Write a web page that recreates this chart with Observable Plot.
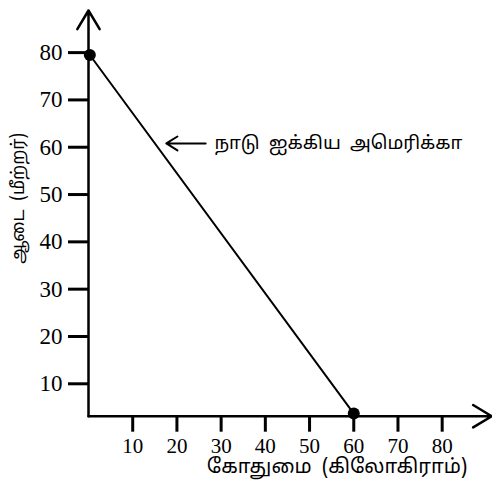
<!DOCTYPE html>
<html>
<head>
<meta charset="utf-8">
<script src="https://cdn.jsdelivr.net/npm/d3@7"></script>
<script src="https://cdn.jsdelivr.net/npm/@observablehq/plot@0.6"></script>
<style>
  html, body { margin: 0; padding: 0; background: #fff; }
  #chart svg { display: block; }
</style>
</head>
<body>
<div id="chart"></div>
<script>
// Data
const points = [
  {x: 0.3, y: 79.5},
  {x: 60, y: 3.7}
];
const xTicks = [10, 20, 30, 40, 50, 60, 70, 80];
const yTicks = [10, 20, 30, 40, 50, 60, 70, 80];
const xLabel = ["கோதுமை\u2002(கிலோகிராம்)"];
const yLabel = ["ஆடை\u2002(மீற்றர்)"];
const annotationText = ["நாடு\u2002ஐக்கிய\u2002அமெரிக்கா"];
const annotationArrow = [{x1: 26.5, y1: 60.8, x2: 17.6, y2: 60.8}];
const xDomain = [0, 91.2];
const yDomain = [3.15, 88.9];

const numFont = "Liberation Serif";
const tamilFont = "Noto Sans Tamil";

const chart = Plot.plot({
  width: 492,
  height: 484,
  marginLeft: 88,
  marginRight: 0.8,
  marginTop: 10,
  marginBottom: 68.3,
  style: {background: "#fff", color: "#000", overflow: "visible"},
  x: {domain: xDomain},
  y: {domain: yDomain},
  marks: [
    Plot.axisX({ticks: xTicks, tickSize: 16, strokeWidth: 3, label: null, tickFormat: () => ""}),
    Plot.axisY({ticks: yTicks, tickSize: 20, strokeWidth: 3, label: null, tickFormat: () => ""}),
    // tick labels
    Plot.text(xTicks, {x: d => d, y: yDomain[0], text: d => String(d), lineAnchor: "top", dy: 22, fontSize: 21, fontFamily: numFont, fill: "#000"}),
    Plot.text(yTicks, {x: xDomain[0], y: d => d, text: d => String(d), textAnchor: "end", dx: -26, fontSize: 23, fontFamily: numFont, fill: "#000"}),
    // axes with arrowheads
    Plot.arrow([{x1: xDomain[0], y1: yDomain[0], x2: xDomain[0], y2: yDomain[1]}],
      {x1: "x1", y1: "y1", x2: "x2", y2: "y2", stroke: "#000", strokeWidth: 2.5, headLength: 13, headAngle: 62}),
    Plot.arrow([{x1: xDomain[0], y1: yDomain[0], x2: xDomain[1], y2: yDomain[0]}],
      {x1: "x1", y1: "y1", x2: "x2", y2: "y2", stroke: "#000", strokeWidth: 2.5, headLength: 13, headAngle: 62}),
    // line
    Plot.line(points, {x: "x", y: "y", stroke: "#000", strokeWidth: 2}),
    Plot.dot(points, {x: "x", y: "y", r: 6, fill: "#000", stroke: "none"}),
    // annotation
    Plot.arrow(annotationArrow, {x1: "x1", y1: "y1", x2: "x2", y2: "y2", stroke: "#000", strokeWidth: 2, headLength: 15, headAngle: 64}),
    Plot.text(annotationText, {x: 28.5, y: 60.8, text: d => d, textAnchor: "start", fontSize: 18.5, fontFamily: tamilFont, fill: "#000"}),
    Plot.text(xLabel, {frameAnchor: "bottom", text: d => d, textAnchor: "middle", dx: 47, dy: 57, fontSize: 20, fontFamily: tamilFont, fill: "#000"}),
    Plot.text(yLabel, {frameAnchor: "left", text: d => d, textAnchor: "middle", rotate: -90, dx: -70, dy: -15, fontSize: 17.5, fontFamily: tamilFont, fill: "#000"})
  ]
});
document.getElementById("chart").appendChild(chart);
chart.querySelectorAll("[font-variant]").forEach(el => el.removeAttribute("font-variant"));
</script>
</body>
</html>
